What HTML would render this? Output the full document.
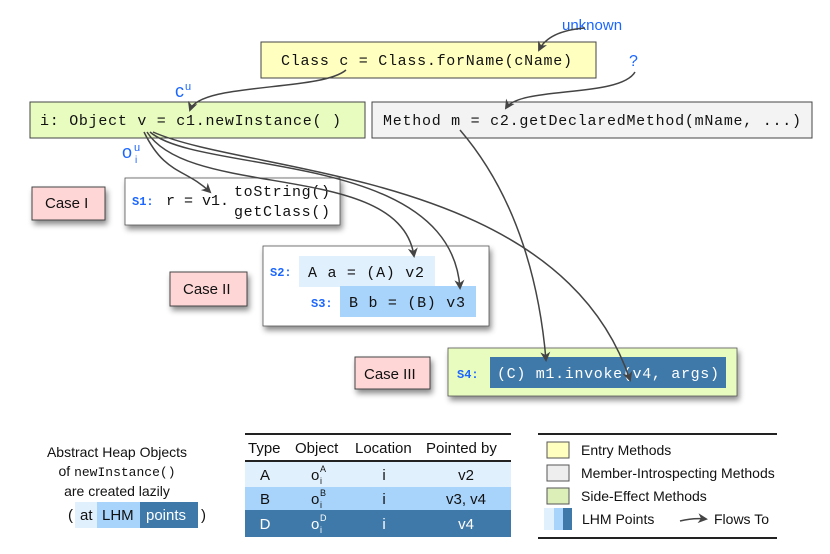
<!DOCTYPE html>
<html><head><meta charset="utf-8"><style>
html,body{margin:0;padding:0;background:#fff;}
svg{display:block;}
.m{font-family:"Liberation Mono",monospace;font-size:15px;fill:#111;}
.s{font-family:"Liberation Sans",sans-serif;}
.lab{font-family:"Liberation Mono",monospace;font-size:12px;font-weight:bold;fill:#1a66ff;}
</style></head><body>
<svg width="830" height="554" viewBox="0 0 830 554" xmlns="http://www.w3.org/2000/svg">
<defs>
<marker id="ah" markerWidth="10" markerHeight="10" refX="8" refY="5" orient="auto" markerUnits="userSpaceOnUse">
<path d="M0,0 L10,5 L0,10 L3,5 z" fill="#444"/></marker>
<filter id="sh" x="-10%" y="-20%" width="130%" height="160%"><feDropShadow dx="2" dy="4" stdDeviation="3" flood-color="#000" flood-opacity="0.45"/></filter>
</defs>

<rect x="261" y="42" width="335" height="36" fill="#ffffc0" stroke="#444" stroke-width="1"/>
<text x="281" y="65" class="m" textLength="291">Class c = Class.forName(cName)</text>
<rect x="30" y="102" width="335" height="36" fill="#e8fcc0" stroke="#444" stroke-width="1"/>
<text x="40" y="125" class="m" textLength="301">i: Object v = c1.newInstance( )</text>
<rect x="372" y="102" width="440" height="36" fill="#f3f3f3" stroke="#444" stroke-width="1"/>
<text x="383" y="125" class="m" textLength="418">Method m = c2.getDeclaredMethod(mName, ...)</text>

<text x="562" y="30" class="s" font-size="15" fill="#1a66ff">unknown</text>
<text x="629" y="66" class="s" font-size="16" fill="#1a66ff">?</text>
<text x="175" y="97" class="s" font-size="18" fill="#1a66ff">c</text><text x="185" y="90" class="s" font-size="11" fill="#1a66ff">u</text>
<text x="122" y="158" class="s" font-size="18" fill="#1a66ff">o</text><text x="134" y="151" class="s" font-size="11" fill="#1a66ff">u</text><text x="135" y="163" class="s" font-size="10" fill="#1a66ff">i</text>

<rect x="32" y="187" width="73" height="33" fill="#ffd6d6" stroke="#444" filter="url(#sh)"/>
<text x="45" y="208" class="s" font-size="15" fill="#111">Case I</text>
<rect x="125" y="178" width="215" height="47" fill="#fff" stroke="#555" stroke-width="0.8" filter="url(#sh)"/>
<text x="132" y="205" class="lab">S1:</text>
<text x="166" y="205" class="m">r = v1.</text>
<text x="234" y="196" class="m" textLength="96">toString()</text>
<text x="234" y="216" class="m" textLength="96">getClass()</text>

<rect x="170" y="272" width="77" height="34" fill="#ffd6d6" stroke="#444" filter="url(#sh)"/>
<text x="183" y="294" class="s" font-size="15" fill="#111">Case II</text>
<rect x="263" y="246" width="226" height="80" fill="#fff" stroke="#555" stroke-width="0.8" filter="url(#sh)"/>
<rect x="299" y="256" width="136" height="31" fill="#e1f0fd"/>
<rect x="340" y="286" width="136" height="31" fill="#a8d4fb"/>
<text x="270" y="276" class="lab">S2:</text>
<text x="308" y="277" class="m" textLength="116">A a = (A) v2</text>
<text x="311" y="307" class="lab">S3:</text>
<text x="349" y="307" class="m" textLength="116">B b = (B) v3</text>

<rect x="355" y="357" width="75" height="32" fill="#ffd6d6" stroke="#444" filter="url(#sh)"/>
<text x="364" y="379" class="s" font-size="15" fill="#111">Case III</text>
<rect x="448" y="348" width="289" height="48" fill="#e8fcc0" stroke="#555" stroke-width="0.8" filter="url(#sh)"/>
<rect x="490" y="357" width="236" height="31" fill="#3f79aa"/>
<text x="457" y="378" class="lab">S4:</text>
<text x="497" y="378" class="m" style="fill:#fff" textLength="222">(C) m1.invoke(v4, args)</text>

<g fill="none" stroke="#444" stroke-width="1.5" marker-end="url(#ah)">
<path d="M346,70 C320,92 200,82 190,110"/>
<path d="M585,28 C560,30 545,38 539,50"/>
<path d="M635,72 C620,98 520,86 506,108"/>
<path d="M144,132 C165,175 185,168 210,192"/>
<path d="M147,132 C190,200 400,160 414,256"/>
<path d="M150,132 C200,175 450,150 460,288"/>
<path d="M153,132 C250,175 560,170 630,380"/>
<path d="M460,130 C520,200 540,290 546,360"/>
</g>

<g class="s" font-size="14" fill="#111" text-anchor="middle">
<text x="117" y="457">Abstract Heap Objects</text>
<text x="117" y="476"><tspan>of </tspan><tspan font-family="Liberation Mono" font-size="13">newInstance()</tspan></text>
<text x="117" y="496">are created lazily</text>
</g>
<rect x="75" y="502" width="22" height="26" fill="#e1f0fd"/>
<rect x="97" y="502" width="43" height="26" fill="#a8d4fb"/>
<rect x="140" y="502" width="58" height="26" fill="#3f79aa"/>
<g class="s" font-size="15" fill="#111">
<text x="68" y="520">(</text><text x="80" y="520">at</text><text x="102" y="520">LHM</text>
<text x="146" y="520" fill="#fff">points</text><text x="201" y="520">)</text>
</g>

<line x1="245" y1="434" x2="511" y2="434" stroke="#222" stroke-width="2"/>
<line x1="245" y1="461" x2="511" y2="461" stroke="#222" stroke-width="2"/>
<rect x="245" y="462" width="266" height="25" fill="#e1f0fd"/>
<rect x="245" y="487" width="266" height="23" fill="#a8d4fb"/>
<rect x="245" y="510" width="266" height="27" fill="#3f79aa"/>
<g class="s" font-size="15" fill="#111">
<text x="248" y="453">Type</text>
<text x="295" y="453">Object</text>
<text x="355" y="453">Location</text>
<text x="426" y="453">Pointed by</text>
</g>
<g class="s" font-size="15" fill="#111" text-anchor="middle">
<text x="265" y="480">A</text><text x="384" y="480">i</text><text x="466" y="480">v2</text>
<text x="265" y="504">B</text><text x="384" y="504">i</text><text x="466" y="504">v3,  v4</text>
<g fill="#fff"><text x="265" y="529">D</text><text x="384" y="529">i</text><text x="466" y="529">v4</text></g>
</g>
<g class="s" fill="#111">
<text x="311" y="480" font-size="15">o</text><text x="320" y="472" font-size="9">A</text><text x="320" y="484" font-size="9">i</text>
<text x="311" y="504" font-size="15">o</text><text x="320" y="496" font-size="9">B</text><text x="320" y="508" font-size="9">i</text>
<g fill="#fff"><text x="311" y="529" font-size="15">o</text><text x="320" y="521" font-size="9">D</text><text x="320" y="533" font-size="9">i</text></g>
</g>

<line x1="538" y1="434" x2="777" y2="434" stroke="#222" stroke-width="2"/>
<line x1="538" y1="538" x2="777" y2="538" stroke="#222" stroke-width="2"/>
<rect x="547" y="442" width="22" height="16" fill="#ffffc0" stroke="#555"/>
<rect x="547" y="465" width="22" height="16" fill="#eeeeee" stroke="#555"/>
<rect x="547" y="488" width="22" height="16" fill="#dcefb8" stroke="#555"/>
<rect x="544" y="508" width="10" height="22" fill="#e1f0fd"/>
<rect x="554" y="508" width="9" height="22" fill="#a8d4fb"/>
<rect x="563" y="508" width="9" height="22" fill="#3f79aa"/>
<g class="s" font-size="14" fill="#111">
<text x="581" y="455">Entry Methods</text>
<text x="581" y="478">Member-Introspecting Methods</text>
<text x="581" y="501">Side-Effect Methods</text>
<text x="582" y="524">LHM Points</text>
<text x="714" y="524">Flows To</text>
</g>
<path d="M680,521 C688,519 696,518 706,519" fill="none" stroke="#444" stroke-width="1.5" marker-end="url(#ah)"/>
</svg>
</body></html>
